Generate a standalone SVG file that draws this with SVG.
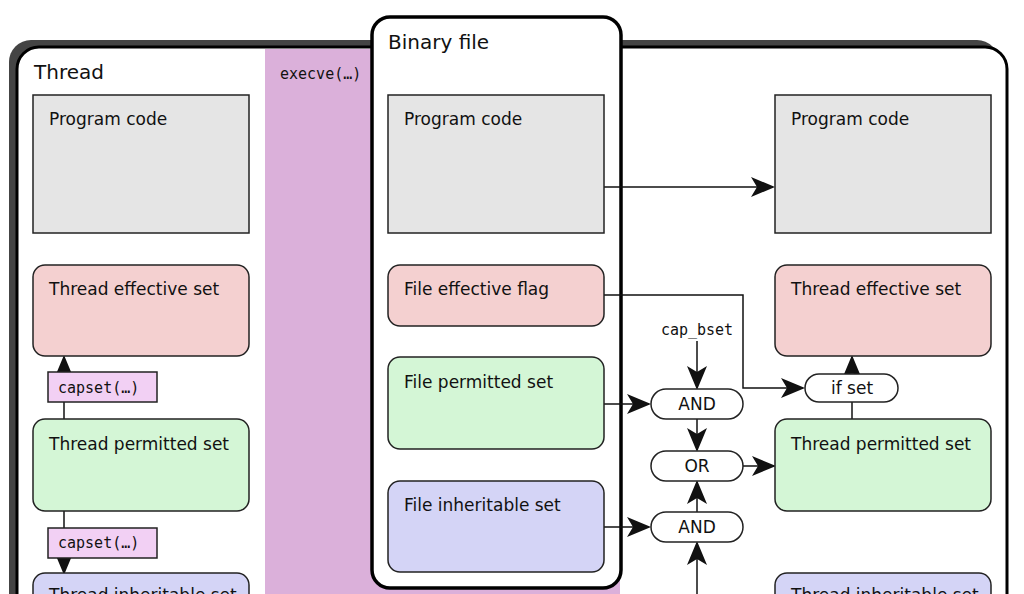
<svg xmlns="http://www.w3.org/2000/svg" width="1024" height="594" viewBox="0 0 1024 594">
<style>
text{font-family:"DejaVu Sans","Noto Sans",sans-serif;font-size:17px;fill:#111}
.m{font-family:"DejaVu Sans Mono","Liberation Mono",monospace;font-size:15px}
.n{stroke:#222;stroke-width:1.5}
.g{fill:#e5e5e5}.r{fill:#f4d0d0}.gr{fill:#d4f6d6}.b{fill:#d4d4f6}.p{fill:#f2d0f4}.w{fill:#fff}
.c{fill:none;stroke:#111;stroke-width:1.5}
</style>
<defs>
<marker id="a2" viewBox="0 0 12 10" refX="11" refY="5" markerWidth="24" markerHeight="20" markerUnits="userSpaceOnUse" orient="auto">
<path d="M0,0 L12,5 L0,10 L3,5 Z" fill="#111"/>
</marker>
</defs>
<rect width="1024" height="594" fill="#fff"/>
<g id="frame">
<rect x="9" y="40" width="990" height="580" rx="22" fill="#444"/>
<rect x="17" y="47" width="990" height="580" rx="22" fill="#fff" stroke="#000" stroke-width="3"/>
<rect x="265" y="49" width="355" height="560" fill="#dbb0da"/>
<text x="280" y="79" class="m" style="font-size:15px">execve(…)</text>
<text x="34" y="79" style="font-size:20px">Thread</text>
</g>
<g id="binary">
<rect x="372" y="17" width="249" height="571" rx="18" fill="#fff" stroke="#000" stroke-width="3.5"/>
<text x="388" y="49" style="font-size:20px">Binary file</text>
</g>
<g id="connectors">
<path class="c" d="M64,372 V357" marker-end="url(#a2)"/>
<path class="c" d="M64,402 V419"/>
<path class="c" d="M64,511 V528"/>
<path class="c" d="M64,558 V573" marker-end="url(#a2)"/>
<path class="c" d="M604,187 H773" marker-end="url(#a2)"/>
<path class="c" d="M604,295 H743 V388 H803" marker-end="url(#a2)"/>
<path class="c" d="M697,341 V388" marker-end="url(#a2)"/>
<path class="c" d="M604,404 H649" marker-end="url(#a2)"/>
<path class="c" d="M697,419 V450" marker-end="url(#a2)"/>
<path class="c" d="M743,466 H774" marker-end="url(#a2)"/>
<path class="c" d="M697,600 V543" marker-end="url(#a2)"/>
<path class="c" d="M697,512 V482" marker-end="url(#a2)"/>
<path class="c" d="M604,527 H649" marker-end="url(#a2)"/>
<path class="c" d="M852,374 V357" marker-end="url(#a2)"/>
<path class="c" d="M852,402 V419"/>
</g>
<g id="l-code"><rect class="n g" x="33" y="95" width="216" height="138"/><text x="49" y="125">Program code</text></g>
<g id="l-eff"><rect class="n r" x="33" y="265" width="216" height="91" rx="12"/><text x="49" y="295">Thread effective set</text></g>
<g id="capset1"><rect class="n p" x="48" y="372" width="109" height="30"/><text class="m" x="58" y="393">capset(…)</text></g>
<g id="l-perm"><rect class="n gr" x="33" y="419" width="216" height="92" rx="12"/><text x="49" y="450">Thread permitted set</text></g>
<g id="capset2"><rect class="n p" x="48" y="528" width="109" height="30"/><text class="m" x="58" y="548">capset(…)</text></g>
<g id="l-inh"><rect class="n b" x="33" y="573" width="216" height="92" rx="12"/><text x="49" y="601">Thread inheritable set</text></g>
<g id="b-code"><rect class="n g" x="388" y="95" width="216" height="138"/><text x="404" y="125">Program code</text></g>
<g id="b-eff"><rect class="n r" x="388" y="265" width="216" height="61" rx="12"/><text x="404" y="295">File effective flag</text></g>
<g id="b-perm"><rect class="n gr" x="388" y="357" width="216" height="92" rx="12"/><text x="404" y="388">File permitted set</text></g>
<g id="b-inh"><rect class="n b" x="388" y="481" width="216" height="91" rx="12"/><text x="404" y="511">File inheritable set</text></g>
<g id="capbset"><text class="m" x="697" y="335" text-anchor="middle">cap_bset</text></g>
<g id="and1"><rect class="n w" x="651" y="389" width="92" height="30" rx="15"/><text x="697" y="410" text-anchor="middle">AND</text></g>
<g id="or"><rect class="n w" x="651" y="451" width="92" height="30" rx="15"/><text x="697" y="472" text-anchor="middle">OR</text></g>
<g id="and2"><rect class="n w" x="651" y="512" width="92" height="30" rx="15"/><text x="697" y="533" text-anchor="middle">AND</text></g>
<g id="ifset"><rect class="n w" x="805" y="374" width="93" height="28" rx="14"/><text x="852" y="394" text-anchor="middle">if set</text></g>
<g id="r-code"><rect class="n g" x="775" y="95" width="216" height="138"/><text x="791" y="125">Program code</text></g>
<g id="r-eff"><rect class="n r" x="775" y="265" width="216" height="91" rx="12"/><text x="791" y="295">Thread effective set</text></g>
<g id="r-perm"><rect class="n gr" x="775" y="419" width="216" height="92" rx="12"/><text x="791" y="450">Thread permitted set</text></g>
<g id="r-inh"><rect class="n b" x="775" y="573" width="216" height="92" rx="12"/><text x="791" y="601">Thread inheritable set</text></g>
</svg>
